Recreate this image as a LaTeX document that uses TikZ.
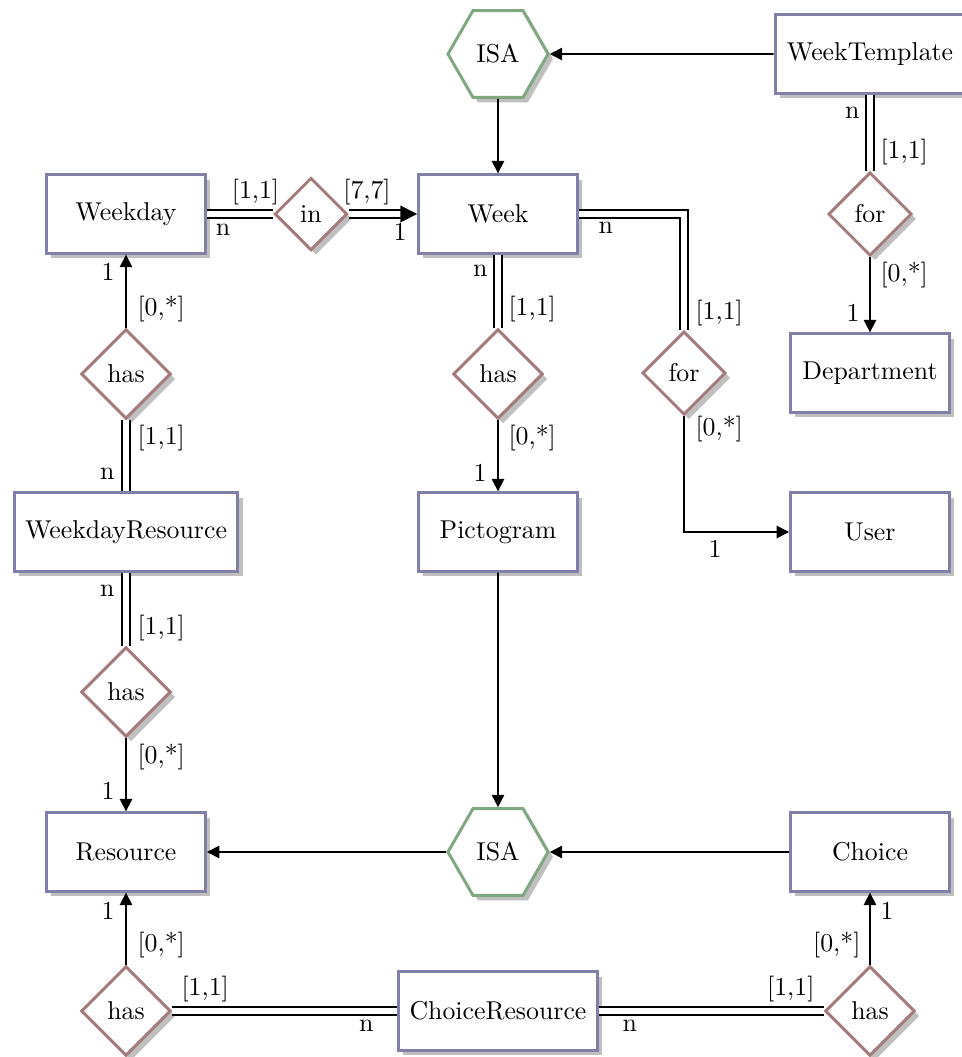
\documentclass[tikz,border=0pt]{standalone}
\usetikzlibrary{shapes.geometric,shadows,arrows.meta}
\definecolor{entborder}{RGB}{128,128,170}
\definecolor{relborder}{RGB}{165,122,122}
\definecolor{isaborder}{RGB}{128,168,128}
\begin{document}
\begin{tikzpicture}[x=0.3876pt,y=-0.3876pt,
  shade/.style={drop shadow={shadow xshift=1.9pt,shadow yshift=-1.9pt,fill=black!25,opacity=1}},
  entity/.style={rectangle,draw=entborder,line width=1.15pt,fill=white,shade,
    minimum width=61.6pt,minimum height=30.4pt,inner xsep=1pt},
  relation/.style={diamond,aspect=1,draw=relborder,line width=1.15pt,fill=white,shade,inner sep=3.3pt},
  isa/.style={regular polygon,regular polygon sides=6,draw=isaborder,line width=1.15pt,
    fill=white,shade,minimum size=38.8pt,inner sep=0pt},
  conn/.style={line width=0.65pt},
  arr/.style={conn,-{Triangle[length=4.8pt,width=4.8pt]}},
  dbl/.style={line width=0.6pt,double,double distance=2.4pt},
  dblarr/.style={dbl,-{Triangle[length=6.5pt,width=6.5pt]}},
  lbl/.style={inner sep=0pt}
]
\useasboundingbox (0,0) rectangle (961,1057);

% entities, relationships and ISA hierarchies
\node[isa] (isaT) at (498,54) {ISA};
\node[entity,minimum width=73.6pt] (wtpl) at (870,54) {WeekTemplate};
\node[entity] (weekday) at (126,214) {Weekday};
\node[relation] (in) at (311,214) {in};
\node[entity] (week) at (498,214) {Week};
\node[relation] (forD) at (870,214) {for};
\node[relation] (hasWd) at (126,374) {has};
\node[relation] (hasP) at (498,374) {has};
\node[relation] (forU) at (684,373) {for};
\node[entity] (dept) at (870,373) {Department};
\node[entity,minimum width=86.8pt] (wdres) at (126,532) {WeekdayResource};
\node[entity] (picto) at (498,532) {Pictogram};
\node[entity] (user) at (870,532) {User};
\node[relation] (hasR) at (126,692) {has};
\node[entity] (res) at (126,852) {Resource};
\node[isa] (isaB) at (498,852) {ISA};
\node[entity] (choice) at (870,852) {Choice};
\node[relation] (hasCR1) at (126,1011) {has};
\node[entity,minimum width=77.1pt] (cres) at (498,1011) {ChoiceResource};
\node[relation] (hasCR2) at (870,1011) {has};

% connectors
\draw[arr] (wtpl) -- (isaT);
\draw[arr] (isaT) -- (week);
\draw[dbl] (weekday) -- (in);
\draw[dblarr] (in) -- (week);
\draw[dbl] (week) -- (hasP);
\draw[arr] (hasP) -- (picto);
\draw[dbl] (week.east) -| (forU.north);
\draw[arr] (forU.south) |- (user.west);
\draw[dbl] (wtpl) -- (forD);
\draw[arr] (forD) -- (dept);
\draw[arr] (hasWd) -- (weekday);
\draw[dbl] (hasWd) -- (wdres);
\draw[dbl] (wdres) -- (hasR);
\draw[arr] (hasR) -- (res);
\draw[arr] (picto) -- (isaB);
\draw[arr] (isaB) -- (res);
\draw[arr] (choice) -- (isaB);
\draw[arr] (hasCR1) -- (res);
\draw[dbl] (hasCR1) -- (cres);
\draw[dbl] (cres) -- (hasCR2);
\draw[arr] (hasCR2) -- (choice);

% cardinalities
\node[lbl,anchor=south] (c01) at (255.5,205) {[1,1]};
\node[lbl,anchor=north] (c02) at (223,224) {n};
\node[lbl,anchor=south] (c03) at (367,205) {[7,7]};
\node[lbl,anchor=north] (c04) at (400,223) {1};

\node[lbl,anchor=north east] (c05) at (488,265) {n};
\node[lbl,anchor=south west] (c06) at (508,322) {[1,1]};
\node[lbl,anchor=north west] (c07) at (508,425) {[0,*]};
\node[lbl,anchor=south east] (c08) at (487,482) {1};

\node[lbl,anchor=north west] (c09) at (598,222) {n};
\node[lbl,anchor=south west] (c10) at (695,326) {[1,1]};
\node[lbl,anchor=north west] (c11) at (695,416) {[0,*]};
\node[lbl,anchor=north] (c12) at (715,540) {1};

\node[lbl,anchor=north east] (c13) at (860,107) {n};
\node[lbl,anchor=south west] (c14) at (880,165) {[1,1]};
\node[lbl,anchor=north west] (c15) at (880,262) {[0,*]};
\node[lbl,anchor=south east] (c16) at (860,322) {1};

\node[lbl,anchor=north east] (c17) at (115,263) {1};
\node[lbl,anchor=south west] (c18) at (137,322) {[0,*]};
\node[lbl,anchor=north west] (c19) at (137,425) {[1,1]};
\node[lbl,anchor=south east] (c20) at (115,480) {n};

\node[lbl,anchor=north east] (c21) at (115,585) {n};
\node[lbl,anchor=south west] (c22) at (137,641) {[1,1]};
\node[lbl,anchor=north west] (c23) at (137,744) {[0,*]};
\node[lbl,anchor=south east] (c24) at (115,800) {1};

\node[lbl,anchor=north east] (c25) at (115,902) {1};
\node[lbl,anchor=south west] (c26) at (137,958) {[0,*]};
\node[lbl,anchor=south west] (c27) at (181,1002) {[1,1]};
\node[lbl,anchor=north east] (c28) at (374,1020) {n};
\node[lbl,anchor=north west] (c29) at (622,1020) {n};
\node[lbl,anchor=south east] (c30) at (815,1002) {[1,1]};
\node[lbl,anchor=south east] (c31) at (861,958) {[0,*]};
\node[lbl,anchor=north west] (c32) at (880,902) {1};
\end{tikzpicture}
\end{document}
